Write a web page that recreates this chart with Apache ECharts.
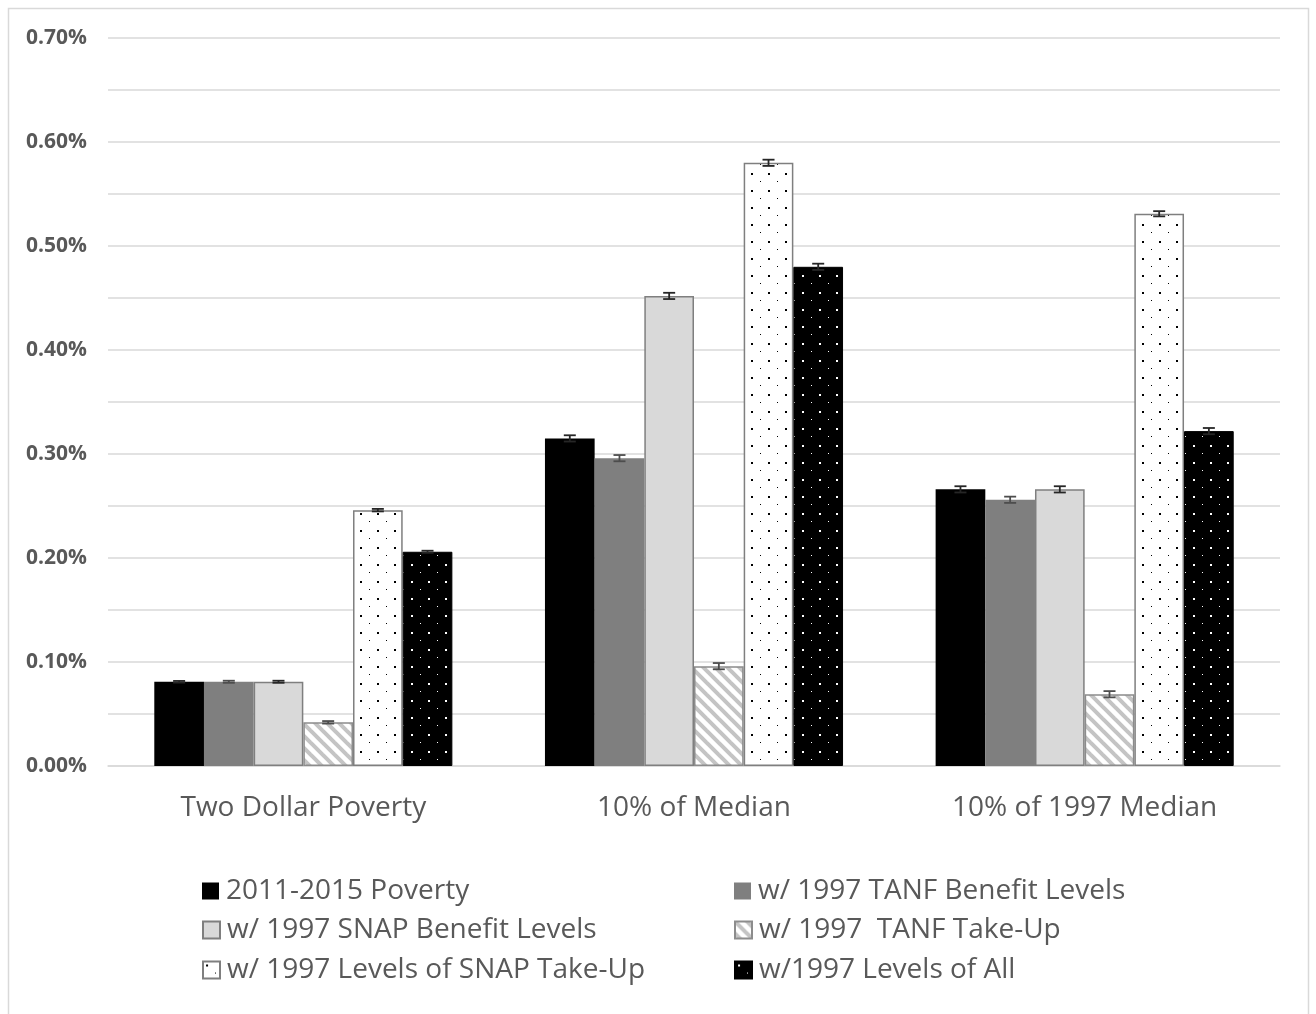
<!DOCTYPE html>
<html>
<head>
<meta charset="utf-8">
<script src="https://cdn.jsdelivr.net/npm/echarts@6/dist/echarts.min.js"></script>
<style>
  html, body { margin: 0; padding: 0; background: #ffffff; }
  #chart { width: 1316px; height: 1014px; }
</style>
</head>
<body>
<div id="chart"></div>
<script>
// Categories and series (values in percent)
const categories = ['Two Dollar Poverty', '10% of Median', '10% of 1997 Median'];
const seriesNames = [
  '2011-2015 Poverty',
  'w/ 1997 TANF Benefit Levels',
  'w/ 1997 SNAP Benefit Levels',
  'w/ 1997  TANF Take-Up',
  'w/ 1997 Levels of SNAP Take-Up',
  'w/1997 Levels of All'
];
const povertyBase   = [0.081, 0.315, 0.266];
const tanfBenefit   = [0.081, 0.296, 0.256];
const snapBenefit   = [0.081, 0.452, 0.266];
const tanfTakeUp    = [0.042, 0.096, 0.069];
const snapTakeUp    = [0.246, 0.580, 0.531];
const allLevels     = [0.206, 0.480, 0.322];
// Half-widths of the confidence intervals (percent)
const povertyBaseErr = [0.0008, 0.003, 0.003];
const tanfBenefitErr = [0.001, 0.003, 0.003];
const snapBenefitErr = [0.001, 0.003, 0.003];
const tanfTakeUpErr  = [0.0012, 0.003, 0.003];
const snapTakeUpErr  = [0.0012, 0.003, 0.0025];
const allLevelsErr   = [0.001, 0.003, 0.003];
// Y axis ticks (percent)
const yMin = 0, yMax = 0.70, yStep = 0.05;

const values = [povertyBase, tanfBenefit, snapBenefit, tanfTakeUp, snapTakeUp, allLevels];
const errors = [povertyBaseErr, tanfBenefitErr, snapBenefitErr, tanfTakeUpErr, snapTakeUpErr, allLevelsErr];

const TEXT = '#595959';
const GRID = '#d9d9d9';
const FONT = '"Open Sans", "Liberation Sans", sans-serif';
const CAT_GAP = 0.237;

// Fill patterns drawn on small canvases
function dotPattern(bg, fg) {
  const c = document.createElement('canvas');
  c.width = 17; c.height = 17;
  const g = c.getContext('2d');
  g.fillStyle = bg; g.fillRect(0, 0, 17, 17);
  g.fillStyle = fg;
  g.fillRect(3, 3, 2, 2);
  g.fillRect(12, 11, 1, 1);
  return { image: c, repeat: 'repeat' };
}
function hatchPattern() {
  const s = 12;
  const c = document.createElement('canvas');
  c.width = s; c.height = s;
  const g = c.getContext('2d');
  g.fillStyle = '#ffffff'; g.fillRect(0, 0, s, s);
  g.strokeStyle = '#c4c4c4'; g.lineWidth = 4;
  for (let k = -1; k <= 1; k++) {
    g.beginPath();
    g.moveTo(k * s - 2, -2);
    g.lineTo(k * s + s + 2, s + 2);
    g.stroke();
  }
  return { image: c, repeat: 'repeat' };
}

const styles = [
  { color: '#000000', borderColor: '#000000', borderWidth: 0 },
  { color: '#7f7f7f', borderColor: '#7f7f7f', borderWidth: 0 },
  { color: '#d9d9d9', borderColor: '#7f7f7f', borderWidth: 1.5 },
  { color: hatchPattern(), borderColor: '#8c8c8c', borderWidth: 1.5 },
  { color: dotPattern('#ffffff', '#000000'), borderColor: '#7f7f7f', borderWidth: 1.5 },
  { color: dotPattern('#000000', '#ffffff'), borderColor: '#000000', borderWidth: 1 }
];

const barSeries = seriesNames.map((name, i) => ({
  name: name,
  type: 'bar',
  data: values[i],
  barGap: 0,
  barCategoryGap: (CAT_GAP * 100) + '%',
  itemStyle: styles[i],
  emphasis: { disabled: true },
  z: 2
}));

// Error bars, offset to sit on each bar of the group
const errSeries = seriesNames.map((name, i) => ({
  type: 'custom',
  name: name + ' CI',
  data: values[i].map((v, c) => [c, v, errors[i][c]]),
  z: 5,
  silent: true,
  renderItem: function (params, api) {
    const c = api.value(0), v = api.value(1), e = api.value(2);
    const band = api.size([1, 0])[0];
    const barW = band * (1 - CAT_GAP) / 6;
    const x = api.coord([c, v])[0] + (i - 2.5) * barW;
    const yHi = api.coord([c, v + e])[1];
    const yLo = api.coord([c, v - e])[1];
    const hw = 6;
    const st = { stroke: i === 1 || i === 3 ? '#4d4d4d' : '#262626', lineWidth: 1.8 };
    return {
      type: 'group',
      children: [
        { type: 'line', shape: { x1: x, y1: yHi, x2: x, y2: yLo }, style: st },
        { type: 'line', shape: { x1: x - hw, y1: yHi, x2: x + hw, y2: yHi }, style: st },
        { type: 'line', shape: { x1: x - hw, y1: yLo, x2: x + hw, y2: yLo }, style: st }
      ]
    };
  }
}));

// One legend block per entry, laid out in two columns
const legendPos = [
  [202, 877], [734, 877],
  [202, 916], [734, 916],
  [202, 956], [734, 956]
];
const legends = seriesNames.map((name, i) => ({
  data: [name],
  icon: 'rect',
  left: legendPos[i][0],
  top: legendPos[i][1],
  padding: 0,
  itemWidth: 17,
  itemHeight: 17,
  selectedMode: false,
  textStyle: { color: TEXT, fontSize: 28, fontFamily: FONT, padding: [0, 0, 0, 2] }
}));

const chart = echarts.init(document.getElementById('chart'), null, { renderer: 'canvas' });
chart.setOption({
  animation: false,
  backgroundColor: '#ffffff',
  graphic: [{
    type: 'rect',
    shape: { x: 8.5, y: 8.5, width: 1300, height: 1020 },
    style: { fill: 'none', stroke: GRID, lineWidth: 1.5 },
    silent: true,
    z: -1
  }],
  legend: legends,
  grid: { left: 108, right: 36, top: 38, bottom: 248 },
  xAxis: {
    type: 'category',
    data: categories,
    axisTick: { show: false },
    axisLine: { lineStyle: { color: GRID, width: 1.5 } },
    axisLabel: { color: TEXT, fontSize: 28, fontFamily: FONT, margin: 28 }
  },
  yAxis: {
    type: 'value',
    min: yMin,
    max: yMax,
    interval: yStep,
    axisLine: { show: false },
    axisTick: { show: false },
    splitLine: { lineStyle: { color: GRID, width: 1.5 } },
    axisLabel: {
      color: TEXT,
      fontSize: 21,
      fontWeight: 'bold',
      fontFamily: FONT,
      margin: 21,
      formatter: function (v) {
        return Math.round(v * 100) % 10 === 0 ? v.toFixed(2) + '%' : '';
      }
    }
  },
  series: barSeries.concat(errSeries)
});
</script>
</body>
</html>
